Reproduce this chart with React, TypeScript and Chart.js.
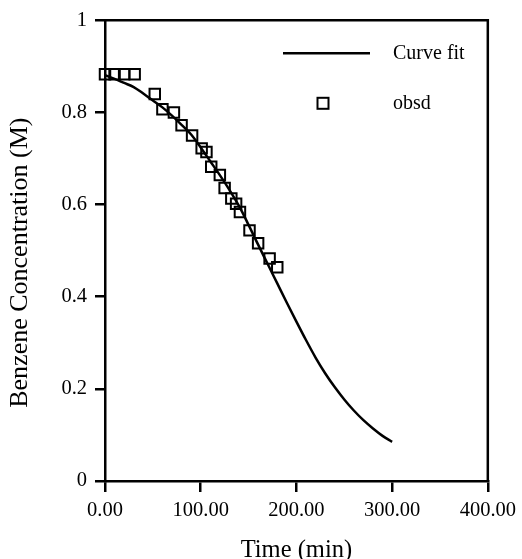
import React, { useEffect, useRef } from 'react';
import { Chart, registerables } from 'chart.js';

Chart.register(...registerables);

// ---- data ----
const fitTimes = [0, 10, 20, 30, 40, 50, 60, 70, 80, 90, 100, 110, 120, 130, 140, 150, 160, 170, 180, 190, 200, 210, 220, 230, 240, 250, 260, 270, 280, 290, 300];
const fitConc = [0.881, 0.873, 0.864, 0.855, 0.841, 0.826, 0.811, 0.793, 0.773, 0.752, 0.724, 0.694, 0.664, 0.632, 0.597, 0.556, 0.513, 0.471, 0.429, 0.387, 0.346, 0.306, 0.268, 0.234, 0.204, 0.177, 0.153, 0.132, 0.114, 0.098, 0.085];

const obsTimes = [0, 10, 20, 31, 52, 60, 72, 80, 91, 101, 106, 111, 120, 125, 132, 137, 141, 151, 160, 172, 180];
const obsConc = [0.883, 0.883, 0.883, 0.883, 0.84, 0.807, 0.8, 0.772, 0.75, 0.722, 0.714, 0.682, 0.664, 0.636, 0.613, 0.602, 0.584, 0.544, 0.516, 0.483, 0.464];

const xTicks = [0, 100, 200, 300, 400];
const yTicks = [0, 0.2, 0.4, 0.6, 0.8, 1];

const seriesLabels = ['Curve fit', 'obsd'];
const xTitle = 'Time (min)';
const yTitle = 'Benzene Concentration (M)';

const FONT = '"Liberation Serif", "Times New Roman", serif';

const framePlugin = {
  id: 'frame',
  afterDraw(chart: any) {
    const { ctx, chartArea } = chart;
    ctx.save();
    ctx.strokeStyle = '#000';
    ctx.lineWidth = 2.5;
    ctx.beginPath();
    ctx.moveTo(chartArea.left, chartArea.top);
    ctx.lineTo(chartArea.right, chartArea.top);
    ctx.lineTo(chartArea.right, chartArea.bottom);
    ctx.stroke();

    // legend
    const ds = chart.data.datasets;
    const lx = chartArea.left + 178;
    const tx = chartArea.left + 288;
    const y1 = chartArea.top + 33;
    const y2 = chartArea.top + 83;
    ctx.font = '20px ' + FONT;
    ctx.fillStyle = '#000';
    ctx.textBaseline = 'middle';
    ctx.textAlign = 'left';
    ctx.lineWidth = 2.5;
    ctx.beginPath();
    ctx.moveTo(lx, y1);
    ctx.lineTo(lx + 87, y1);
    ctx.stroke();
    ctx.fillText(ds[0].label, tx, y1);
    ctx.lineWidth = 2;
    ctx.strokeRect(lx + 34.5, y2 - 5.5, 11, 11);
    ctx.fillText(ds[1].label, tx, y2);

    // y axis title
    ctx.font = '26px ' + FONT;
    ctx.textAlign = 'center';
    ctx.textBaseline = 'middle';
    ctx.translate(20, (chartArea.top + chartArea.bottom) / 2 + 12);
    ctx.rotate(-Math.PI / 2);
    ctx.fillText(yTitle, 0, 0);
    ctx.restore();
  },
};

export default function App() {
  const ref = useRef<HTMLCanvasElement | null>(null);

  useEffect(() => {
    if (!ref.current) return;
    const chart = new Chart(ref.current, {
      type: 'scatter',
      data: {
        datasets: [
          {
            label: seriesLabels[0],
            data: fitTimes.map((t, i) => ({ x: t, y: fitConc[i] })),
            showLine: true,
            borderColor: '#000',
            borderWidth: 2.5,
            pointRadius: 0,
            cubicInterpolationMode: 'monotone',
            clip: false as any,
          },
          {
            label: seriesLabels[1],
            data: obsTimes.map((t, i) => ({ x: t, y: obsConc[i] })),
            showLine: false,
            pointStyle: 'rect',
            pointRadius: 7.4,
            pointBorderWidth: 2,
            borderColor: '#000',
            backgroundColor: 'rgba(0,0,0,0)',
            pointBackgroundColor: 'rgba(0,0,0,0)',
            pointBorderColor: '#000',
            clip: false as any,
          },
        ],
      },
      options: {
        responsive: false,
        animation: false,
        layout: { padding: { left: 0, top: 20, right: 33, bottom: 0 } },
        plugins: {
          legend: { display: false },
          tooltip: { enabled: false },
        },
        scales: {
          x: {
            type: 'linear',
            min: 0,
            max: 400,
            afterBuildTicks: (s: any) => {
              s.ticks = xTicks.map((v) => ({ value: v }));
            },
            afterFit: (s: any) => {
              s.height = 78;
            },
            ticks: {
              color: '#000',
              font: { family: FONT, size: 20.5 },
              padding: 6,
              maxRotation: 0,
              autoSkip: false,
              callback: (v: any) => Number(v).toFixed(2),
            },
            grid: {
              display: true,
              drawOnChartArea: false,
              drawTicks: true,
              tickLength: 11,
              color: '#000',
              lineWidth: 2.5,
            },
            border: { display: true, color: '#000', width: 2.5 },
            title: {
              display: true,
              text: xTitle,
              color: '#000',
              font: { family: FONT, size: 24.5, lineHeight: 0.7 },
              padding: { top: 0, bottom: 0 },
            },
          },
          y: {
            type: 'linear',
            min: 0,
            max: 1,
            afterBuildTicks: (s: any) => {
              s.ticks = yTicks.map((v) => ({ value: v }));
            },
            afterFit: (s: any) => {
              s.width = 105;
            },
            ticks: {
              color: '#000',
              font: { family: FONT, size: 20.5 },
              padding: 8,
              autoSkip: false,
              callback: (v: any) => String(Number(v)),
            },
            grid: {
              display: true,
              drawOnChartArea: false,
              drawTicks: true,
              tickLength: 10,
              color: '#000',
              lineWidth: 2.5,
            },
            border: { display: true, color: '#000', width: 2.5 },
            title: { display: false },
          },
        },
      },
      plugins: [framePlugin],
    });
    return () => chart.destroy();
  }, []);

  return (
    <div style={{ position: 'absolute', left: 0, top: 0, width: 522, height: 559, background: '#fff' }}>
      <canvas ref={ref} width={522} height={559} />
    </div>
  );
}
